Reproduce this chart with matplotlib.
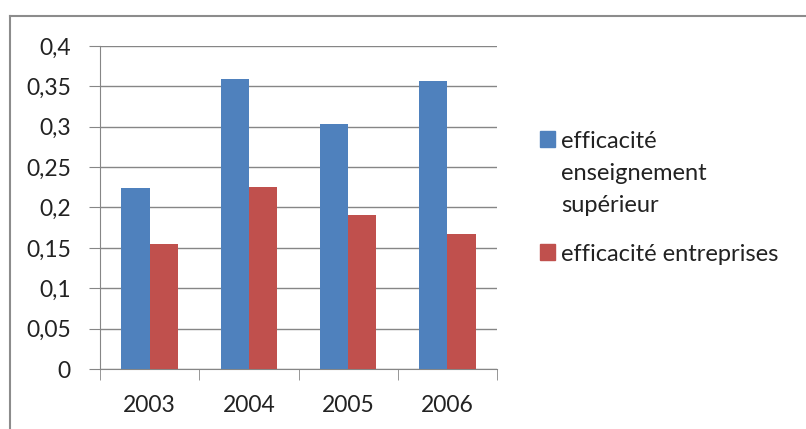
import numpy as np
import matplotlib.pyplot as plt
from matplotlib.lines import Line2D
from matplotlib.patches import Rectangle
from matplotlib.ticker import FuncFormatter

plt.rcParams['font.family'] = ['Lato', 'DejaVu Sans']

annees = ["2003", "2004", "2005", "2006"]
sup = [0.224, 0.359, 0.303, 0.357]
entreprises = [0.155, 0.225, 0.191, 0.167]
labels = ["efficacité\nenseignement\nsupérieur", "efficacité entreprises"]
couleurs = ["#4F81BD", "#C0504D"]

W, H = 806, 429
fig = plt.figure(figsize=(W / 100, H / 100), dpi=100)
ax = fig.add_axes([100 / W, 60 / H, 397 / W, 323 / H])

x = np.arange(len(annees))
bw = 1 / 3.5
ax.bar(x - bw / 2, sup, bw, color=couleurs[0], zorder=3)
ax.bar(x + bw / 2, entreprises, bw, color=couleurs[1], zorder=3)

ax.set_xlim(-0.5, len(annees) - 0.5)
ax.set_ylim(0, 0.4)
ax.set_yticks(np.arange(0, 0.41, 0.05))
ax.yaxis.set_major_formatter(FuncFormatter(
    lambda v, p: ("%g" % round(v, 2)).replace(".", ",")))
ax.set_xticks(x)
ax.set_xticklabels(annees)
ax.set_xticks(np.arange(-0.5, len(annees)), minor=True)

gris = "#868686"
texte = "#222222"
ax.grid(axis="y", color=gris, linewidth=1, zorder=0)
for s in ["top", "right"]:
    ax.spines[s].set_visible(False)
ax.spines["left"].set_color(gris)
ax.spines["bottom"].set_color(gris)
ax.tick_params(axis="y", length=8, color=gris, pad=13, labelsize=16.5,
               labelcolor=texte)
ax.tick_params(axis="x", which="major", length=0, pad=19, labelsize=16.5,
               labelcolor=texte)
ax.tick_params(axis="x", which="minor", length=8, color=gris)

# légende
for i, (lab, c) in enumerate(zip(labels, couleurs)):
    yhaut = [131, 244][i]
    fig.add_artist(Rectangle((540 / W, 1 - (yhaut + 16) / H), 15 / W, 16 / H,
                             transform=fig.transFigure, color=c))
    fig.text(561 / W, 1 - yhaut / H, lab, fontsize=17, va="top",
             ha="left", color=texte, linespacing=1.65)

# cadre
fig.add_artist(Line2D([10 / W, 10 / W], [0, 1 - 16 / H], color="#8c8c8c",
                      linewidth=1.5, transform=fig.transFigure))
fig.add_artist(Line2D([10 / W, 1], [1 - 16 / H, 1 - 16 / H], color="#8c8c8c",
                      linewidth=1.5, transform=fig.transFigure))

fig.savefig("out.png", dpi=100)
